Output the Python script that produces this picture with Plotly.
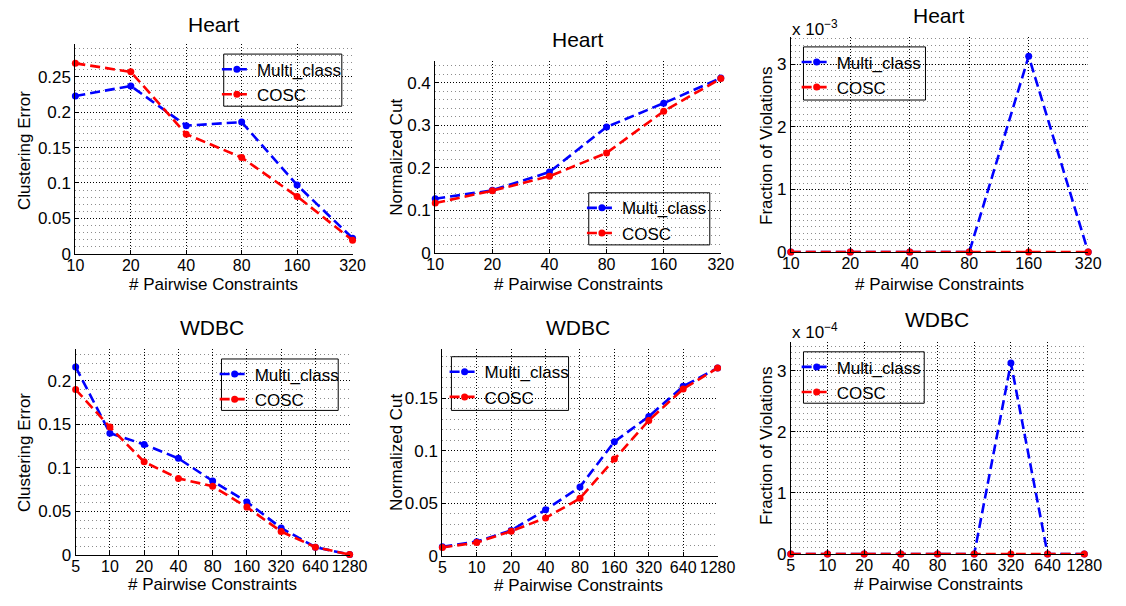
import plotly.graph_objects as go

W, H = 1126, 606
FONT = "Liberation Sans, Arial, sans-serif"

# ---------------- data ----------------
heart_x = ["10", "20", "40", "80", "160", "320"]
wdbc_x = ["5", "10", "20", "40", "80", "160", "320", "640", "1280"]

heart_err_multi = [0.223, 0.237, 0.181, 0.186, 0.097, 0.022]
heart_err_cosc = [0.269, 0.257, 0.169, 0.136, 0.081, 0.019]

heart_cut_multi = [0.127, 0.147, 0.190, 0.296, 0.352, 0.411]
heart_cut_cosc = [0.117, 0.146, 0.180, 0.235, 0.333, 0.410]

heart_vio_multi = [0, 0, 0, 0, 3.125e-3, 0]
heart_vio_cosc = [0, 0, 0, 0, 0, 0]

wdbc_err_multi = [0.216, 0.140, 0.127, 0.111, 0.085, 0.061, 0.031, 0.009, 0.0005]
wdbc_err_cosc = [0.190, 0.147, 0.107, 0.088, 0.079, 0.055, 0.027, 0.009, 0.0005]

wdbc_cut_multi = [0.0084, 0.0134, 0.0241, 0.0437, 0.0656, 0.1087, 0.1328, 0.1615, 0.179]
wdbc_cut_cosc = [0.0078, 0.0125, 0.0234, 0.0359, 0.0547, 0.0922, 0.129, 0.159, 0.179]

wdbc_vio_multi = [0, 0, 0, 0, 0, 0, 3.125e-4, 0, 0]
wdbc_vio_cosc = [0, 0, 0, 0, 0, 0, 0, 0, 0]

series_names = ["Multi_class", "COSC"]
series_colors = ["#0000ff", "#ff0000"]

# ---------------- layout helpers ----------------
def px(x):
    return x / W

def py(y):
    return 1 - y / H

panels = [
    dict(x=heart_x, ys=[heart_err_multi, heart_err_cosc], title="Heart", ylabel="Clustering Error",
         box=(68, 352, 45, 258), yr=[0, 0.296], dtick=0.05, minor=0.01, tickfmt=None,
         title_pos=(210, 25), ylab_pos=(16, 153), xlab_top=(210, 278),
         legbox=(220, 341, 55, 108)),
    dict(x=heart_x, ys=[heart_cut_multi, heart_cut_cosc], title="Heart", ylabel="Normalized Cut",
         box=(436.7, 729.3, 61.7, 257), yr=[0, 0.452], dtick=0.1, minor=0.02, tickfmt=None,
         title_pos=(583, 40), ylab_pos=(397, 160), xlab_top=(583, 278),
         legbox=(594, 718, 196, 249)),
    dict(x=heart_x, ys=[heart_vio_multi, heart_vio_cosc], title="Heart", ylabel="Fraction of Violations",
         box=(801, 1105.7, 37.7, 256.3), yr=[0, 3.43e-3], dtick=1e-3, minor=1e-4, tickfmt=1e-3,
         title_pos=(953, 16), ylab_pos=(776, 148), xlab_top=(953, 278),
         legbox=(814, 939, 47.7, 101.7), expo=("x 10<sup>−3</sup>", 800, 28)),
    dict(x=wdbc_x, ys=[wdbc_err_multi, wdbc_err_cosc], title="WDBC", ylabel="Clustering Error",
         box=(68.3, 349, 355, 564.3), yr=[0, 0.2365], dtick=0.05, minor=0.01, tickfmt=None,
         title_pos=(208, 333), ylab_pos=(16, 460), xlab_top=(208, 583),
         legbox=(217.7, 337.3, 365, 417.3)),
    dict(x=wdbc_x, ys=[wdbc_cut_multi, wdbc_cut_cosc], title="WDBC", ylabel="Normalized Cut",
         box=(444, 726, 355, 565), yr=[0, 0.197], dtick=0.05, minor=0.01, tickfmt=None,
         title_pos=(583, 333), ylab_pos=(397, 460), xlab_top=(583, 584),
         legbox=(453.3, 573.3, 362.7, 417.3)),
    dict(x=wdbc_x, ys=[wdbc_vio_multi, wdbc_vio_cosc], title="WDBC", ylabel="Fraction of Violations",
         box=(801, 1101.7, 347.7, 563.3), yr=[0, 3.47e-4], dtick=1e-4, minor=1e-5, tickfmt=1e-4,
         title_pos=(951, 325), ylab_pos=(776, 453), xlab_top=(952, 583),
         legbox=(814, 937.7, 357.7, 410), expo=("x 10<sup>−4</sup>", 800, 337)),
]

fig = go.Figure()
layout = dict(
    width=W, height=H, margin=dict(l=0, r=0, t=0, b=0),
    paper_bgcolor="white", plot_bgcolor="white",
    font=dict(family=FONT, size=17, color="black"),
    annotations=[], shapes=[],
)

MAJOR_DASH = "1px,2px"
MINOR_DASH = "1px,3px"

for i, p in enumerate(panels):
    n = i + 1
    xa = "xaxis" if n == 1 else f"xaxis{n}"
    ya = "yaxis" if n == 1 else f"yaxis{n}"
    xr = "x" if n == 1 else f"x{n}"
    yr = "y" if n == 1 else f"y{n}"
    lg = "legend" if n == 1 else f"legend{n}"
    l, r, t, b = p["box"]

    for name, col, ys in zip(series_names, series_colors, p["ys"]):
        fig.add_trace(go.Scatter(
            x=p["x"], y=ys, name=name, mode="lines+markers",
            line=dict(color=col, width=2.6, dash="10px,5px"),
            marker=dict(color=col, size=7, symbol="circle"),
            xaxis=xr, yaxis=yr, legend=lg, cliponaxis=False,
        ))

    layout[xa] = dict(
        domain=[px(l), px(r)], anchor=yr, type="category",
        range=[0, len(p["x"]) - 1],
        showline=True, linecolor="black", linewidth=1,
        ticks="inside", ticklen=4, tickcolor="black", tickangle=0,
        ticklabelstandoff=-3,
        showgrid=True, gridcolor="black", griddash=MAJOR_DASH, gridwidth=1,
        tickfont=dict(size=16), zeroline=False,
    )
    yaxis = dict(
        domain=[py(b), py(t)], anchor=xr, range=p["yr"],
        tick0=0, dtick=p["dtick"],
        showline=True, linecolor="black", linewidth=1,
        ticks="inside", ticklen=4, tickcolor="black",
        showgrid=True, gridcolor="black", griddash=MAJOR_DASH, gridwidth=1,
        minor=dict(dtick=p["minor"], tick0=0, showgrid=True, gridcolor="#8c8c8c",
                   griddash=MINOR_DASH, gridwidth=1, ticks=""),
        tickfont=dict(size=17), zeroline=False,
    )
    if p["tickfmt"]:
        s = p["tickfmt"]
        vals = [k * s for k in range(4)]
        yaxis.update(tickmode="array", tickvals=vals, ticktext=[str(k) for k in range(4)])
    layout[ya] = yaxis

    bl, br, bt, bb = p["legbox"]
    layout[lg] = dict(
        x=px(bl - 7), y=py(bt - 2.5), xanchor="left", yanchor="top",
        bgcolor="rgba(0,0,0,0)", borderwidth=0,
        font=dict(size=17, family=FONT), itemwidth=30,
        tracegroupgap=0,
    )
    layout["shapes"].append(dict(
        type="rect", xref="paper", yref="paper",
        x0=px(bl), x1=px(br), y0=py(bb), y1=py(bt),
        line=dict(color="black", width=1), fillcolor="rgba(0,0,0,0)", layer="above"))

    tx, ty = p["title_pos"]
    layout["annotations"].append(dict(
        text=p["title"], x=px(tx), y=py(ty), xref="paper", yref="paper",
        xanchor="center", yanchor="middle", showarrow=False, font=dict(size=21)))
    lx2, ly2 = p["ylab_pos"]
    layout["annotations"].append(dict(
        text=p["ylabel"], x=px(lx2), y=py(ly2), xref="paper", yref="paper",
        xanchor="center", yanchor="middle", showarrow=False, textangle=-90,
        font=dict(size=17)))
    xlx, xly = p["xlab_top"]
    layout["annotations"].append(dict(
        text="# Pairwise Constraints", x=px(xlx), y=py(xly), xref="paper", yref="paper",
        xanchor="center", yanchor="top", showarrow=False, font=dict(size=17)))
    if "expo" in p:
        et, ex, ey = p["expo"]
        layout["annotations"].append(dict(
            text=et, x=px(ex), y=py(ey), xref="paper", yref="paper",
            xanchor="left", yanchor="middle", showarrow=False, font=dict(size=17)))

fig.update_layout(**layout)
fig.write_html("out.html")
